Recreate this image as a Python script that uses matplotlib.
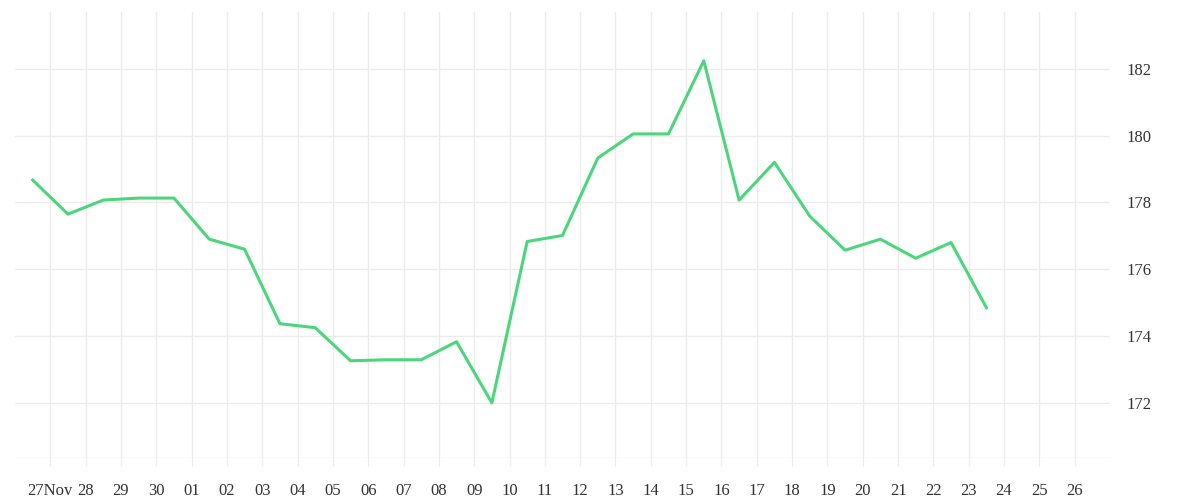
import matplotlib
matplotlib.use("Agg")
import matplotlib.pyplot as plt
import datetime as dt

start = dt.datetime(2023, 11, 26, 12)
values = [178.67, 177.65, 178.07, 178.13, 178.13, 176.9, 176.6, 174.37, 174.25, 173.26,
          173.29, 173.29, 173.83, 172.0, 176.83, 177.01, 179.33, 180.05, 180.05, 182.24,
          178.07, 179.2, 177.59, 176.57, 176.9, 176.33, 176.8, 174.85]
dates = [start + dt.timedelta(days=i) for i in range(len(values))]
tick_days = [dt.datetime(2023, 11, 26) + dt.timedelta(days=i) for i in range(1, 31)]
tick_labels = ["27Nov"] + [d.strftime("%d") for d in tick_days[1:]]

plt.rcParams['font.family'] = ['Liberation Serif', 'DejaVu Serif']
fig = plt.figure(figsize=(12, 5), dpi=100)
ax = fig.add_axes([0.0125, 0.084, 0.9125, 0.892])
ax.plot(dates, values, color="#4cd67c", lw=2.2)
ax.set_xlim(dt.datetime(2023, 11, 26), dt.datetime(2023, 12, 27))
ax.set_ylim(170.35, 183.7)
ax.set_xticks(tick_days)
ax.set_xticklabels(tick_labels)
ax.set_yticks([172, 174, 176, 178, 180, 182])
ax.yaxis.tick_right()
for s in ax.spines.values():
    s.set_visible(False)
ax.grid(True, color="#ececec", lw=1)
ax.tick_params(axis='x', length=6, color="#ececec", labelsize=12, labelcolor="#333333", pad=12)
ax.tick_params(axis='y', length=0, labelsize=12, labelcolor="#333333", pad=12)
ax.axhline(170.35, color="#e6e6e6", lw=1)
fig.savefig("out.png")
